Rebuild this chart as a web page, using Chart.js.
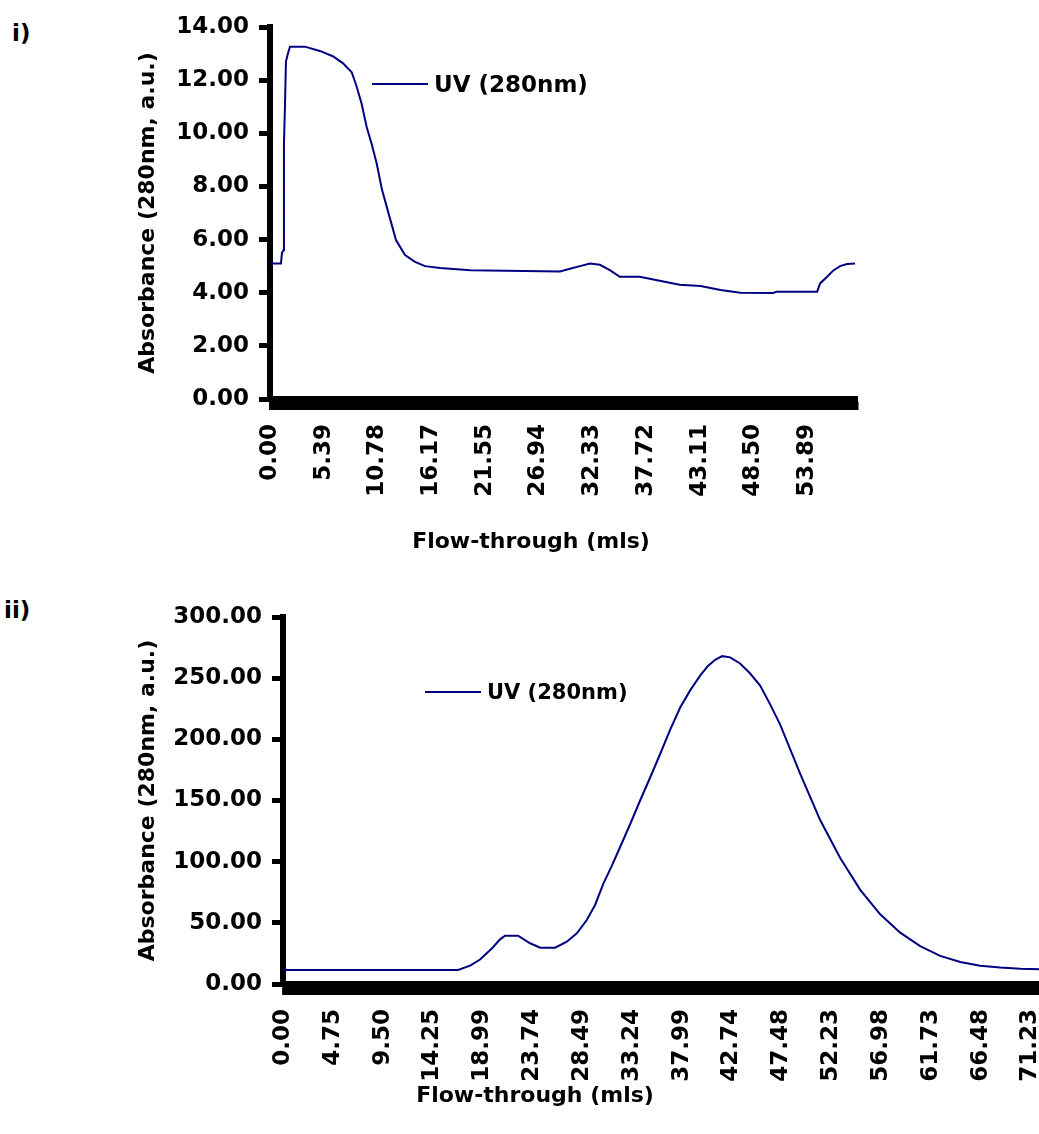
<!DOCTYPE html>
<html>
<head>
<meta charset="utf-8">
<title>UV (280nm) flow-through traces</title>
<script src="https://cdn.jsdelivr.net/npm/chart.js@4.4.1/dist/chart.umd.min.js"></script>
<style>
  html, body { margin: 0; padding: 0; background: #fff; overflow: hidden; }
  body { position: relative; width: 1039px; height: 1134px; font-family: 'DejaVu Sans', sans-serif; font-weight: bold; color: #000; }
  canvas { position: absolute; left: 0; }
  #traceTop { top: 0; }
  #traceBottom { top: 580px; }
  .panel-tag, .axis-caption, .legend { position: absolute; white-space: nowrap; }
  .panel-tag { font-size: 23px; line-height: 26px; }
  .axis-caption { font-size: 22px; line-height: 26px; width: 400px; text-align: center; }
  .legend { font-size: 23px; line-height: 26px; display: flex; align-items: center; }
  .legend.small { font-size: 21px; }
  .legend .swatch { display: inline-block; width: 56px; height: 2px; background: #000080; margin-right: 6px; }
</style>
</head>
<body>
<div class="panel-tag" style="left:12px; top:20px">i)</div>
<canvas id="traceTop" width="900" height="570"></canvas>
<div class="legend" style="left:372px; top:71px"><span class="swatch"></span><span>UV (280nm)</span></div>
<div class="axis-caption" style="left:331px; top:528px">Flow-through (mls)</div>

<div class="panel-tag" style="left:4px; top:597px">ii)</div>
<canvas id="traceBottom" width="1070" height="554"></canvas>
<div class="legend small" style="left:425px; top:679px"><span class="swatch"></span><span>UV (280nm)</span></div>
<div class="axis-caption" style="left:335px; top:1082px">Flow-through (mls)</div>

<script>
// run i) : flow-through volume (ml) and absorbance
const flowLabelsTop = ['0.00', '5.39', '10.78', '16.17', '21.55', '26.94', '32.33', '37.72', '43.11', '48.50', '53.89'];
const flowTop = [0, 1.1, 1.2, 1.35, 1.4, 1.5, 1.6, 1.8, 2.0, 3.5, 5.0, 6.3, 7.3, 8.2, 8.7, 9.2, 9.7, 10.2, 10.7, 11.24,
  11.94, 12.64, 13.55, 14.55, 15.55, 17.06, 20.1, 29.1, 30.1, 31.1, 32.1, 33.1, 34.1, 35.1, 37.1, 39.1, 41.1, 43.2, 45.2,
  47.2, 50.5, 50.8, 54.9, 55.2, 55.9, 56.5, 57.2, 57.9, 58.7];
const uvTop = [5.1, 5.1, 5.5, 5.6, 9.6, 11.0, 12.7, 13.0, 13.26, 13.26, 13.1, 12.9, 12.64, 12.3, 11.75, 11.1, 10.24, 9.6, 8.87, 7.87,
  6.93, 5.98, 5.42, 5.16, 5.0, 4.93, 4.85, 4.8, 4.9, 5.0, 5.1, 5.05, 4.85, 4.6, 4.6, 4.45, 4.3, 4.25, 4.1,
  4.0, 3.99, 4.04, 4.04, 4.35, 4.6, 4.83, 5.0, 5.08, 5.1];

// run ii)
const flowLabelsBottom = ['0.00', '4.75', '9.50', '14.25', '18.99', '23.74', '28.49', '33.24', '37.99', '42.74', '47.48',
  '52.23', '56.98', '61.73', '66.48', '71.23'];
const flowBottom = [0, 16.68, 17.83, 18.78, 19.9, 20.69, 21.16, 22.4, 23.55, 24.5, 25.93, 27.05, 28.0, 28.95, 29.74, 30.53,
  31.3, 32.13, 33.1, 34.03, 35.0, 35.94, 36.9, 37.85, 38.8, 39.75, 40.5, 41.18, 41.85, 42.61, 43.56, 44.5, 45.47, 46.4,
  47.38, 49.28, 51.19, 53.1, 55.01, 56.91, 58.82, 60.72, 62.63, 64.54, 66.44, 68.35, 70.26, 72.07, 74.07];
const uvBottom = [11.4, 11.4, 15, 20, 29, 36.5, 39.5, 39.5, 33.3, 29.7, 29.7, 34.6, 41.4, 52.3, 64.6, 82,
  96, 112, 131, 150, 169, 188, 208, 226, 240, 252, 260, 265, 268, 267, 262, 254, 244, 229,
  212, 172, 134, 103, 77, 57, 42, 31, 23, 18, 15, 13.5, 12.5, 12, 11.8];

const LINE_COLOR = '#000080';

Chart.defaults.font.family = "'DejaVu Sans', sans-serif";
Chart.defaults.font.weight = 'bold';
Chart.defaults.color = '#000';

// a mark every 0.05 ml, so they close up into the solid band under the axis;
// the labelled volumes get their text
function denseTicks(labels, max) {
  const marks = [];
  for (let i = 0; i * 0.05 <= max + 1e-9; i++) marks.push({ value: i * 0.05 });
  labels.forEach(text => marks.push({ value: parseFloat(text), text }));
  return marks.sort((a, b) => a.value - b.value);
}

function createTrace(canvasId, opts) {
  const { flow, uv, flowLabels, xMax, yMax, yStep, yWidth, xHeight, padTop, padRight } = opts;
  const points = flow.map((x, i) => ({ x, y: uv[i] }));

  return new Chart(document.getElementById(canvasId), {
    type: 'line',
    data: {
      datasets: [{
        label: 'UV (280nm)',
        data: points,
        borderColor: LINE_COLOR,
        borderWidth: 2,
        pointRadius: 0,
        tension: 0,
        fill: false
      }]
    },
    options: {
      responsive: false,
      animation: false,
      devicePixelRatio: 1,
      layout: { padding: { top: padTop, right: padRight, bottom: 0, left: 0 } },
      plugins: { legend: { display: false }, tooltip: { enabled: false } },
      scales: {
        x: {
          type: 'linear',
          min: 0,
          max: xMax,
          border: { color: '#000', width: 6 },
          grid: { drawOnChartArea: false, tickLength: 11, tickWidth: 2, tickColor: '#000' },
          ticks: {
            autoSkip: false,
            minRotation: 90,
            maxRotation: 90,
            padding: 14,
            font: { size: 23 },
            callback: (value, index, ticks) => ticks[index].text || ''
          },
          afterBuildTicks: scale => { scale.ticks = denseTicks(flowLabels, xMax); },
          afterFit: scale => {
            scale.height = xHeight;
            scale.paddingLeft = 0;
            scale.paddingRight = 0;
          }
        },
        y: {
          min: 0,
          max: yMax,
          border: { color: '#000', width: 6 },
          grid: { drawOnChartArea: false, tickLength: 11, tickWidth: 5, tickColor: '#000' },
          ticks: { stepSize: yStep, padding: 10, font: { size: 23 }, callback: v => v.toFixed(2) },
          title: {
            display: true,
            text: 'Absorbance (280nm, a.u.)',
            font: { size: 22 },
            padding: { top: 135, bottom: 0 }
          },
          afterFit: scale => {
            scale.width = yWidth;
            scale.paddingTop = 0;
            scale.paddingBottom = 0;
          }
        }
      }
    }
  });
}

createTrace('traceTop', {
  flow: flowTop, uv: uvTop, flowLabels: flowLabelsTop,
  xMax: 58.9, yMax: 14, yStep: 2,
  yWidth: 270, xHeight: 171, padTop: 27, padRight: 43
});

createTrace('traceBottom', {
  flow: flowBottom, uv: uvBottom, flowLabels: flowLabelsBottom,
  xMax: 75, yMax: 300, yStep: 50,
  yWidth: 283, xHeight: 150, padTop: 37, padRight: 0
});
</script>
</body>
</html>
